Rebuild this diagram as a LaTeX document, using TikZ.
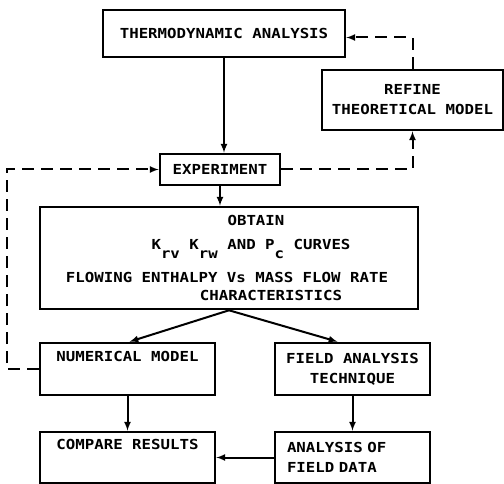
\documentclass[tikz,border=0pt]{standalone}
\usepackage{fontspec}
\setmainfont[FakeStretch=1.14]{DejaVu Sans Mono}
\usepackage{tikz}

\begin{document}
\begin{tikzpicture}[>=latex, x=1pt, y=-1pt,  % 1pt 对应原图 1 个像素, y 轴向下
    box/.style={draw, line width=2.6pt, inner sep=0pt, align=center,
        font=\fontsize{13.8}{20}\selectfont\bfseries},
    txt/.style={inner sep=0pt, font=\fontsize{13.8}{20}\selectfont\bfseries},
    link/.style={->, line width=2pt},
    back/.style={->, line width=2pt, dash pattern=on 12pt off 7pt}]
    \useasboundingbox (0, 0) rectangle (504, 484);

    % 方框
    \node[box, minimum width=242, minimum height=47] (thermo) at (224, 33.5) {THERMODYNAMIC ANALYSIS};
    \node[box, minimum width=181, minimum height=60] (refine) at (412.5, 100) {REFINE\\THEORETICAL MODEL};
    \node[box, minimum width=120, minimum height=31] (expt) at (220, 169.5) {EXPERIMENT};
    \node[box, minimum width=378, minimum height=102] (obtain) at (229, 258) {};
    \node[box, minimum width=175, minimum height=52] (num) at (127.5, 369) {NUMERICAL MODEL\\ \strut};
    \node[box, minimum width=155, minimum height=52] (field) at (352.5, 369) {FIELD ANALYSIS\\TECHNIQUE};
    \node[box, minimum width=175, minimum height=51] (comp) at (127.5, 457.5) {COMPARE RESULTS\\ \strut};
    \node[box, minimum width=155, minimum height=51, align=left, text width=131] (data) at (352.5, 457.5) {ANALYSIS OF\\FIELD DATA};

    % OBTAIN 框里的几行字, 各自位置不同
    \node[txt] (ob1) at (256, 220) {OBTAIN};
    \node[txt] (ob2) at (251, 249) {K\raisebox{-1.1ex}{rv} K\raisebox{-1.1ex}{rw} AND P\raisebox{-1.1ex}{c} CURVES};
    \node[txt] (ob3) at (227, 277) {FLOWING ENTHALPY Vs MASS FLOW RATE};
    \node[txt] (ob4) at (271, 295) {CHARACTERISTICS};

    % 实线箭头
    \draw[link] (thermo.south) -- (thermo.south |- expt.north);
    \draw[link] (expt.south) -- (expt.south |- obtain.north);
    \draw[link] (obtain.south) -- ([xshift=2]num.north);
    \draw[link] (obtain.south) -- ([xshift=-15]field.north);
    \draw[link] (num.south) -- (comp.north);
    \draw[link] (field.south) -- (data.north);
    \draw[link] (data.west) -- (comp.east);

    % 虚线反馈回路
    \draw[back] (num.west) -- ++(-32, 0) |- (expt.west);
    \draw[back] (expt.east) -| (refine.south);
    \draw[back] (refine.north) |- ([yshift=-4]thermo.east);
\end{tikzpicture}
\end{document}
